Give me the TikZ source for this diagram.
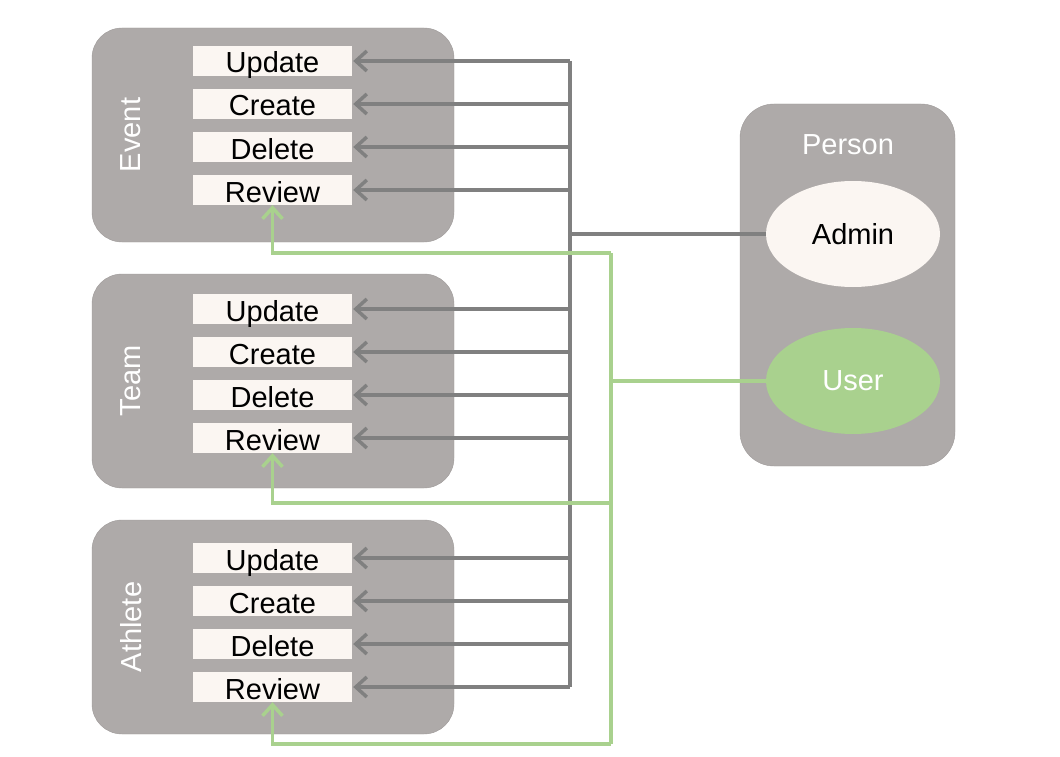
\documentclass[tikz,border=0pt]{standalone}
\usepackage{fontspec}
\setmainfont{Liberation Sans}
\usetikzlibrary{arrows.meta,shapes.geometric}
\definecolor{boxgray}{HTML}{AEAAA9}
\definecolor{cream}{HTML}{FBF6F2}
\definecolor{linegray}{HTML}{808080}
\definecolor{lgreen}{HTML}{A9D18E}
\tikzset{
  grp/.style={fill=boxgray, draw=boxgray!90!black, line width=0.4pt, rounded corners=30pt},
  op/.style={fill=cream, minimum width=159pt, minimum height=30pt, inner sep=0pt, text height=27pt, text depth=3pt, font=\fontsize{29}{34}\selectfont, text=black},
  grplabel/.style={rotate=90, text=white, font=\fontsize{29}{34}\selectfont},
  role/.style={ellipse, minimum width=174pt, minimum height=106pt, inner sep=0pt, font=\fontsize{29}{34}\selectfont},
  garr/.style={draw=linegray, line width=3.5pt, -{Straight Barb[length=11pt,width=20pt,line width=3.5pt]}},
  gline/.style={draw=linegray, line width=3.5pt},
  grarr/.style={draw=lgreen, line width=3.5pt, -{Straight Barb[length=11pt,width=20pt,line width=3.5pt]}},
  grline/.style={draw=lgreen, line width=3.5pt},
}
\begin{document}
\begin{tikzpicture}[x=1pt,y=-1pt]
\useasboundingbox (0,0) rectangle (1060,757);
% group boxes
\draw[grp] (92,28) rectangle (454,242);
\draw[grp] (92,274) rectangle (454,488);
\draw[grp] (92,520) rectangle (454,734);
\node[grplabel] (lev) at (131,135) {Event};
\node[grplabel] (ltm) at (131,381) {Team};
\node[grplabel] (lat) at (131,627) {Athlete};
% operations
\foreach \g/\y in {ev/0, tm/248, at/497}{
  \node[op] (\g-u) at (272.5,61+\y) {Update};
  \node[op] (\g-c) at (272.5,104+\y) {Create};
  \node[op] (\g-d) at (272.5,147+\y) {Delete};
  \node[op] (\g-r) at (272.5,190+\y) {Review};
}
% person
\draw[fill=boxgray, draw=boxgray!90!black, line width=0.4pt, rounded corners=34pt] (740,104) rectangle (955,466);
\node[text=white, font=\fontsize{29}{34}\selectfont] (person) at (848,145) {Person};
\node[role, fill=cream, text=black] (admin) at (853,234) {Admin};
\node[role, fill=lgreen, text=white] (user) at (853,381) {User};
% gray bus
\coordinate (bus) at (570,0);
\coordinate (gbus) at (611,0);
\draw[gline] (ev-u.east -| bus) -- (at-r.east -| bus);
\draw[gline] (admin.west) -- (admin.west -| bus);
\foreach \g in {ev,tm,at}{
  \foreach \o in {u,c,d,r}{
    \draw[garr] (\g-\o.east -| bus) -- ([xshift=1pt]\g-\o.east);
  }
}
% green bus
\coordinate (g1) at (611,253);
\coordinate (g2) at (611,503);
\coordinate (g3) at (611,744);
\draw[grline] (user.west) -- (user.west -| gbus);
\draw[grline] (g1) -- (g3);
\draw[grarr] (g1) -| (ev-r.south);
\draw[grarr] (g2) -| (tm-r.south);
\draw[grarr] (g3) -| (at-r.south);
\end{tikzpicture}
\end{document}
